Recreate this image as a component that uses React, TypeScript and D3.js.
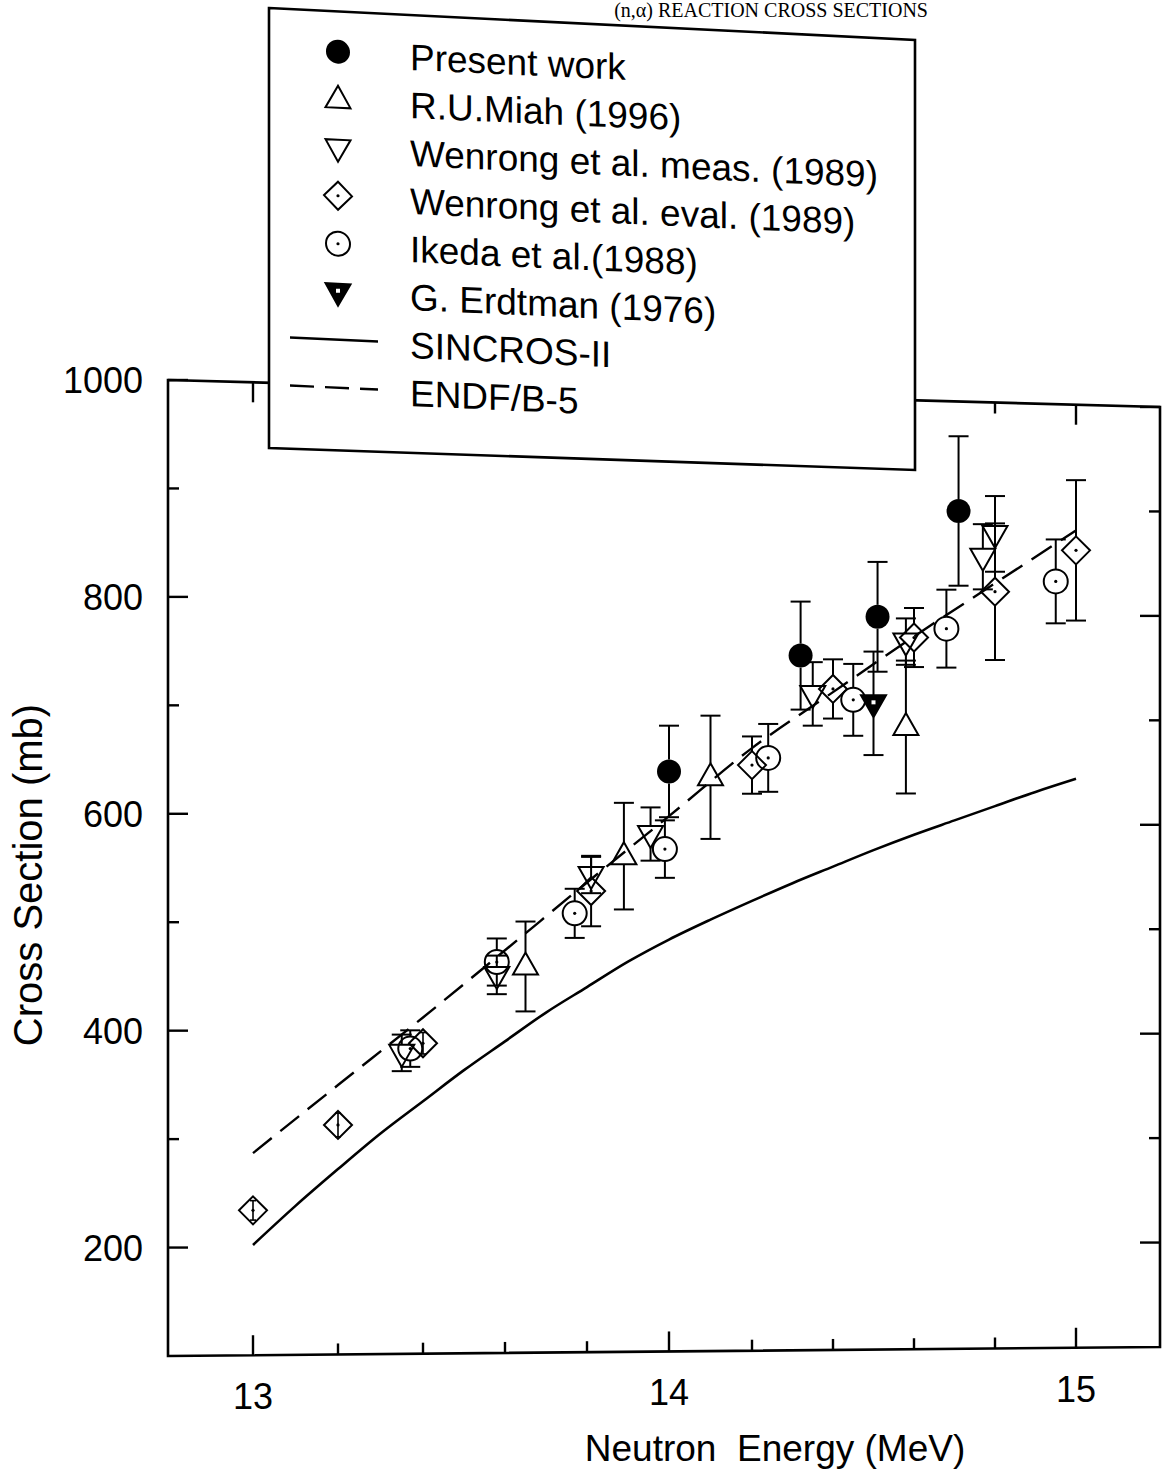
import React from 'react';
import * as d3 from 'd3';

type Pt = { e: number; s: number; err: number };

// ---- data ----
const presentWork: Pt[] = [
  { e: 14.0, s: 645, err: 43 },
  { e: 14.32, s: 756, err: 51 },
  { e: 14.51, s: 794, err: 52 },
  { e: 14.71, s: 896, err: 71 },
];
const miah: Pt[] = [
  { e: 13.65, s: 461, err: 42 },
  { e: 13.89, s: 565, err: 50 },
  { e: 14.1, s: 640, err: 58 },
  { e: 14.58, s: 690, err: 63 },
];
const wenrongMeas: Pt[] = [
  { e: 13.35, s: 380, err: 17 },
  { e: 13.58, s: 453, err: 18 },
  { e: 13.81, s: 547, err: 17 },
  { e: 13.955, s: 586, err: 25 },
  { e: 14.35, s: 720, err: 30 },
  { e: 14.58, s: 771, err: 22 },
  { e: 14.77, s: 853, err: 31 },
  { e: 14.8, s: 875, err: 36 },
];
const wenrongEval: Pt[] = [
  { e: 13.0, s: 234, err: 9 },
  { e: 13.2, s: 313, err: 11 },
  { e: 13.4, s: 389, err: 10 },
  { e: 13.81, s: 532, err: 33 },
  { e: 14.2, s: 652, err: 27 },
  { e: 14.4, s: 725, err: 28 },
  { e: 14.6, s: 775, err: 28 },
  { e: 14.8, s: 820, err: 65 },
  { e: 15.0, s: 861, err: 67 },
];
const ikeda: Pt[] = [
  { e: 13.37, s: 384, err: 17 },
  { e: 13.58, s: 465, err: 22 },
  { e: 13.77, s: 511, err: 23 },
  { e: 13.99, s: 572, err: 27 },
  { e: 14.24, s: 659, err: 32 },
  { e: 14.45, s: 715, err: 34 },
  { e: 14.68, s: 784, err: 37 },
  { e: 14.95, s: 831, err: 40 },
];
const erdtman: Pt[] = [{ e: 14.5, s: 712, err: 49 }];

const sincros: [number, number][] = [
  [13.0, 202], [13.1, 238], [13.2, 272], [13.3, 305], [13.4, 335], [13.5, 364],
  [13.6, 391], [13.7, 418], [13.8, 442], [13.9, 466], [14.0, 487], [14.1, 506],
  [14.2, 524], [14.3, 541], [14.4, 557], [14.5, 573], [14.6, 588], [14.7, 602],
  [14.8, 616], [14.9, 630], [15.0, 643],
];
const endf: [number, number][] = [
  [13.0, 287], [13.2, 350], [13.4, 413], [13.6, 476], [13.8, 540], [14.0, 603],
  [14.2, 668], [14.4, 722], [14.6, 776], [14.8, 828], [15.0, 880],
];

const xTicksMajor = [13, 14, 15];
const xTicksMinor = [13.2, 13.4, 13.6, 13.8, 14.2, 14.4, 14.6, 14.8];
const yTicksMajor = [200, 400, 600, 800, 1000];
const yTicksMinor = [300, 500, 700, 900];

const legendLabels = [
  'Present work',
  'R.U.Miah (1996)',
  'Wenrong et al. meas. (1989)',
  'Wenrong et al. eval. (1989)',
  'Ikeda et al.(1988)',
  'G. Erdtman (1976)',
  'SINCROS-II',
  'ENDF/B-5',
];

type Kind = 'filled' | 'triUp' | 'triDown' | 'diamond' | 'circle' | 'triDownFilled' | 'solid' | 'dashed';
const legendKinds: Kind[] = ['filled', 'triUp', 'triDown', 'diamond', 'circle', 'triDownFilled', 'solid', 'dashed'];

const FONT = 'Liberation Sans, Arial, Helvetica, sans-serif';
const DASH = '24 11';

const extents: Record<string, [number, number]> = {
  filled: [12, 12],
  circle: [12, 12],
  diamond: [14, 14],
  triUp: [14, 8],
  triDown: [8, 14],
  triDownFilled: [8, 14],
};

function Marker({ kind, x, y }: { kind: Kind; x: number; y: number }) {
  const sw = 2;
  switch (kind) {
    case 'filled':
      return <circle cx={x} cy={y} r={12} fill="#000" />;
    case 'circle':
      return (
        <g>
          <circle cx={x} cy={y} r={12} fill="none" stroke="#000" strokeWidth={sw} />
          <circle cx={x} cy={y} r={1.6} fill="#000" />
        </g>
      );
    case 'diamond':
      return (
        <g>
          <path d={`M${x},${y - 14}L${x + 14},${y}L${x},${y + 14}L${x - 14},${y}Z`} fill="none" stroke="#000" strokeWidth={sw} />
          <circle cx={x} cy={y} r={1.6} fill="#000" />
        </g>
      );
    case 'triUp':
      return <path d={`M${x},${y - 14}L${x + 12.5},${y + 8}L${x - 12.5},${y + 8}Z`} fill="none" stroke="#000" strokeWidth={sw} strokeLinejoin="miter" />;
    case 'triDown':
      return <path d={`M${x},${y + 14}L${x + 12.5},${y - 8}L${x - 12.5},${y - 8}Z`} fill="none" stroke="#000" strokeWidth={sw} />;
    case 'triDownFilled':
      return (
        <g>
          <path d={`M${x},${y + 14}L${x + 12.5},${y - 8}L${x - 12.5},${y - 8}Z`} fill="#000" stroke="#000" strokeWidth={sw} />
          <rect x={x - 2} y={y - 3} width={4} height={4} fill="#fff" />
        </g>
      );
    default:
      return null;
  }
}

export default function App() {
  const W = 1167;
  const H = 1484;

  const xScale = d3.scaleLinear()
    .domain([12.8, 13, 13.4, 14, 14.2, 15, 15.207])
    .range([168, 253, 423, 669, 752, 1076, 1160]);
  const vScale = d3.scaleLinear().domain([1000, 100]).range([0, 1]);
  const topEdge = d3.scaleLinear().domain([168, 1160]).range([380, 407]);
  const botEdge = d3.scaleLinear().domain([168, 1160]).range([1356, 1347]);
  const P = (e: number, s: number): [number, number] => {
    const X = xScale(e);
    const v = vScale(s);
    return [X, topEdge(X) + v * (botEdge(X) - topEdge(X))];
  };

  const xMin = 12.8;
  const xMax = 15.207;

  const line = d3.line<[number, number]>()
    .x((d) => P(d[0], d[1])[0])
    .y((d) => P(d[0], d[1])[1])
    .curve(d3.curveMonotoneX);

  const series: { data: Pt[]; kind: Kind }[] = [
    { data: wenrongEval, kind: 'diamond' },
    { data: ikeda, kind: 'circle' },
    { data: wenrongMeas, kind: 'triDown' },
    { data: miah, kind: 'triUp' },
    { data: erdtman, kind: 'triDownFilled' },
    { data: presentWork, kind: 'filled' },
  ];

  const errorBars: React.ReactNode[] = [];
  series.forEach((sr, si) => {
    sr.data.forEach((d, i) => {
      const [x, y] = P(d.e, d.s);
      const yt = P(d.e, d.s + d.err)[1];
      const yb = P(d.e, d.s - d.err)[1];
      const [up, dn] = extents[sr.kind];
      const key = `eb-${si}-${i}`;
      if (y - yt > up + 2) {
        errorBars.push(
          <g key={key} stroke="#000" strokeWidth={2}>
            <line x1={x} x2={x} y1={yt} y2={y - up} />
            <line x1={x} x2={x} y1={y + dn} y2={yb} />
            <line x1={x - 10} x2={x + 10} y1={yt} y2={yt} />
            <line x1={x - 10} x2={x + 10} y1={yb} y2={yb} />
          </g>
        );
      } else {
        errorBars.push(
          <g key={key} stroke="#000" strokeWidth={1.6}>
            <line x1={x} x2={x} y1={yt} y2={yb} />
            <line x1={x - 3} x2={x + 3} y1={yt} y2={yt} />
            <line x1={x - 3} x2={x + 3} y1={yb} y2={yb} />
          </g>
        );
      }
    });
  });

  const markers: React.ReactNode[] = [];
  series.forEach((sr, si) => {
    sr.data.forEach((d, i) => {
      const [x, y] = P(d.e, d.s);
      markers.push(<Marker key={`m-${si}-${i}`} kind={sr.kind} x={x} y={y} />);
    });
  });

  const tl = P(xMin, 1000);
  const tr = P(xMax, 1000);
  const br = P(xMax, 100);
  const bl = P(xMin, 100);

  const ticks: React.ReactNode[] = [];
  [...xTicksMajor.map((t) => [t, 20]), ...xTicksMinor.map((t) => [t, 11])].forEach(([t, len], i) => {
    const b = P(t, 100);
    const tp = P(t, 1000);
    ticks.push(<line key={`xb${i}`} x1={b[0]} x2={b[0]} y1={b[1]} y2={b[1] - len} />);
    ticks.push(<line key={`xt${i}`} x1={tp[0]} x2={tp[0]} y1={tp[1]} y2={tp[1] + len} />);
  });
  [...yTicksMajor.map((t) => [t, 20]), ...yTicksMinor.map((t) => [t, 11])].forEach(([t, len], i) => {
    const l = P(xMin, t);
    const r = P(xMax, t);
    ticks.push(<line key={`yl${i}`} x1={l[0]} x2={l[0] + len} y1={l[1]} y2={l[1]} />);
    ticks.push(<line key={`yr${i}`} x1={r[0]} x2={r[0] - len} y1={r[1]} y2={r[1]} />);
  });

  // legend layout (local, sheared frame)
  const legOX = 269;
  const legOY = 6;
  const rowY = (i: number) => 57.6 + 48 * i;

  return (
    <svg
      width={W}
      height={H}
      viewBox={`0 0 ${W} ${H}`}
      style={{ position: 'absolute', left: 0, top: 0, background: '#fff' }}
    >
      <rect x={0} y={0} width={W} height={H} fill="#fff" />

      {/* title strip at the top */}
      <text x={928} y={17} textAnchor="end" fontFamily="Liberation Serif, Times New Roman, serif" fontSize={20}>
        (n,α) REACTION CROSS SECTIONS
      </text>

      {/* curves */}
      <path d={line(sincros) || ''} fill="none" stroke="#000" strokeWidth={2.6} />
      <path d={line(endf) || ''} fill="none" stroke="#000" strokeWidth={2.4} strokeDasharray={DASH} />

      {errorBars}
      {markers}

      {/* frame */}
      <path
        d={`M${tl[0]},${tl[1]}L${tr[0]},${tr[1]}L${br[0]},${br[1]}L${bl[0]},${bl[1]}Z`}
        fill="none"
        stroke="#000"
        strokeWidth={2.6}
      />
      <g stroke="#000" strokeWidth={2.4}>{ticks}</g>

      {/* y tick labels */}
      {yTicksMajor.map((t) => {
        const p = P(xMin, t);
        return (
          <text key={`yl-${t}`} x={143} y={p[1] + 13} textAnchor="end" fontFamily={FONT} fontSize={36}>
            {t}
          </text>
        );
      })}
      {/* x tick labels */}
      {xTicksMajor.map((t) => {
        const p = P(t, 100);
        return (
          <text key={`xl-${t}`} x={p[0]} y={p[1] + 54} textAnchor="middle" fontFamily={FONT} fontSize={36}>
            {t}
          </text>
        );
      })}

      {/* axis titles */}
      <text x={775} y={1461} textAnchor="middle" fontFamily={FONT} fontSize={37} style={{ whiteSpace: 'pre' }}>
        {'Neutron  Energy (MeV)'}
      </text>
      <text
        transform="translate(42,875) rotate(-90)"
        textAnchor="middle"
        fontFamily={FONT}
        fontSize={40}
      >
        Cross Section (mb)
      </text>

      {/* legend */}
      <path d="M269,8L915,40L915,470L269,448Z" fill="#fff" stroke="#000" strokeWidth={2.6} />
      <g transform={`translate(${legOX},${legOY}) skewY(2.6)`}>
        {legendLabels.map((lab, i) => {
          const kind = legendKinds[i];
          const my = rowY(i) - 15;
          let sym: React.ReactNode;
          if (kind === 'solid') {
            sym = <line x1={21} x2={109} y1={my} y2={my} stroke="#000" strokeWidth={2.4} />;
          } else if (kind === 'dashed') {
            sym = <line x1={21} x2={109} y1={my} y2={my} stroke="#000" strokeWidth={2.4} strokeDasharray={DASH} />;
          } else {
            sym = <Marker kind={kind} x={69} y={my} />;
          }
          return (
            <g key={`leg-${i}`}>
              {sym}
              <text x={141} y={rowY(i)} fontFamily={FONT} fontSize={37}>
                {lab}
              </text>
            </g>
          );
        })}
      </g>
    </svg>
  );
}
